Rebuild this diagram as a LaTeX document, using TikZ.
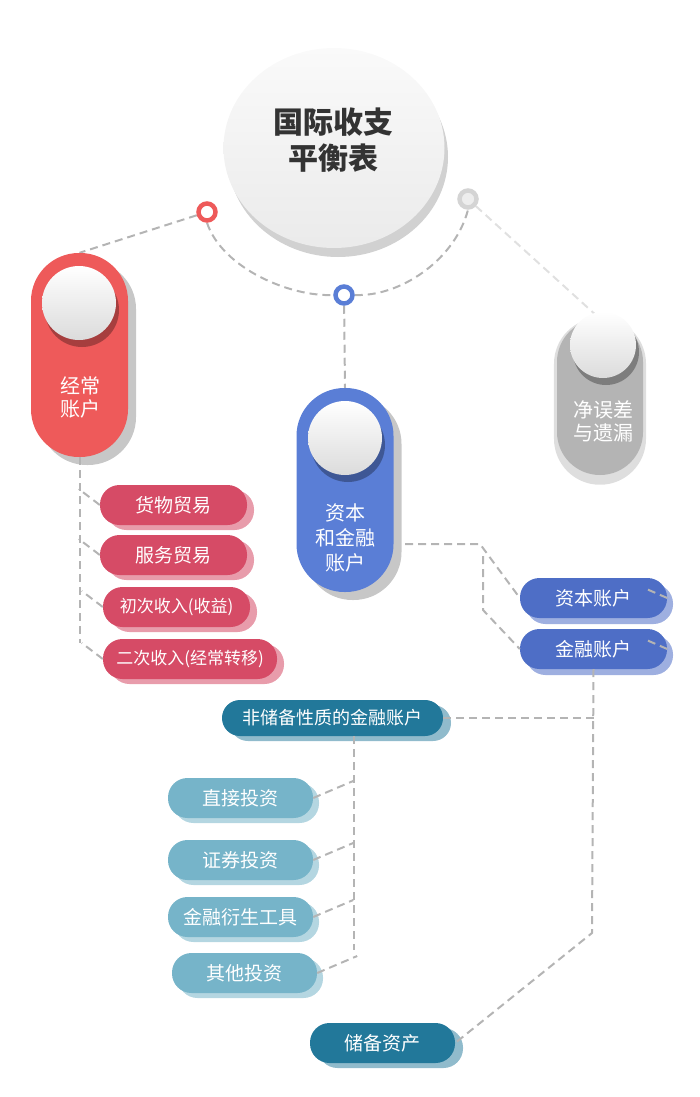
\documentclass[tikz,border=0pt]{standalone}
\usepackage{fontspec}
\setmainfont{Noto Sans CJK SC}
\usetikzlibrary{shadows,shapes.geometric}

\definecolor{redpill}{HTML}{EE5A5A}
\definecolor{reditem}{HTML}{D64B66}
\definecolor{bluepill}{HTML}{5A7ED6}
\definecolor{blueitem}{HTML}{4E6EC6}
\definecolor{graypill}{HTML}{B4B4B4}
\definecolor{tealdark}{HTML}{22789A}
\definecolor{teallight}{HTML}{76B4C9}
\definecolor{linkgray}{HTML}{B4B4B4}

\pgfdeclarelayer{bg}
\pgfsetlayers{bg,main}

\tikzset{
  link/.style={draw=linkgray, line width=2pt, dash pattern={on 8pt off 5pt}},
  ring/.style={circle, minimum size=17pt, inner sep=0pt, line width=4.5pt, fill=white},
  pill/.style={rectangle, rounded corners=47.9pt, minimum width=97pt, minimum height=204pt,
    general shadow={shadow xshift=8pt, shadow yshift=-8pt, fill=black!22}},
  knob/.style={circle, inner sep=0pt, top color=white, bottom color=black!14,
    general shadow={shadow xshift=3pt, shadow yshift=-7pt, fill=black, opacity=0.3}},
  pilltext/.style={text=white, align=center, font=\fontsize{20}{23}\selectfont},
  itm/.style={rectangle, rounded corners=19.5pt, minimum height=40pt, inner sep=0pt,
    text=white, font=\fontsize{19}{19}\selectfont},
  reditm/.style={itm, fill=reditem, general shadow={shadow xshift=7pt, shadow yshift=-5pt, fill=reditem!55}},
  blueitm/.style={itm, fill=blueitem, general shadow={shadow xshift=6pt, shadow yshift=-6pt, fill=blueitem!55}},
  darkitm/.style={itm, fill=tealdark, general shadow={shadow xshift=8pt, shadow yshift=-5pt, fill=tealdark!50}},
  lightitm/.style={itm, fill=teallight, general shadow={shadow xshift=6pt, shadow yshift=-5pt, fill=teallight!55}},
}

\begin{document}
\begin{tikzpicture}[x=1pt,y=1pt,yscale=-1,xscale=1]
	\path[use as bounding box] (0,0) rectangle (700,1097);

	%Shape: Ellipse [title]
	\fill[black!18] (338,157) ellipse (110 and 100);
	\node[ellipse, minimum width=221pt, minimum height=200pt, inner sep=0pt, top color=black!2, bottom color=black!8] (bop) at (334,148) {};
	% Text Node
	\node[text=black!80, align=center, font=\bfseries\fontsize{30}{36}\selectfont] (bop-t) at (333,140) {国际收支\\平衡表};

	%Shape: Circle [rings]
	\node[ring, draw=redpill] (r1) at (207,212) {};
	\node[ring, draw=bluepill] (r2) at (344,295) {};
	\node[ring, draw=black!17, fill=black!7] (r3) at (468,199) {};

	%Shape: Pill [current account]
	\node[pill, fill=redpill] (cur) at (79.5,355) {};
	\node[knob, minimum size=74pt] (c1) at (79,303) {};
	\node[pilltext] (cur-t) at (80,397) {经常\\账户};

	%Shape: Pill [capital and financial account]
	\node[pill, fill=bluepill] (cap) at (345,490) {};
	\node[knob, minimum size=74pt] (c2) at (345,438) {};
	\node[pilltext, font=\fontsize{20}{25}\selectfont] (cap-t) at (345,538) {资本\\和金融\\账户};

	%Shape: Pill [errors and omissions]
	\node[rectangle, rounded corners=42.9pt, minimum width=86pt, minimum height=156pt, fill=graypill,
	  general shadow={shadow scale=1.07, shadow yshift=-4pt, fill=black!13}] (err) at (600,397) {};
	\node[knob, minimum size=66pt] (c3) at (603,345) {};
	\node[pilltext] (err-t) at (603,421) {净误差\\与遗漏};

	% current account items
	\node[reditm, minimum width=147pt] (g1) at (173.5,505) {货物贸易};
	\node[reditm, minimum width=147pt] (g2) at (173.5,555) {服务贸易};
	\node[reditm, minimum width=147pt, font=\fontsize{17}{17}\selectfont] (g3) at (176.5,607) {初次收入(收益)};
	\node[reditm, minimum width=174pt, font=\fontsize{17}{17}\selectfont] (g4) at (190,659) {二次收入(经常转移)};

	% capital and financial items
	\node[blueitm, minimum width=147pt] (ka) at (593.5,598) {资本账户};
	\node[blueitm, minimum width=147pt] (fa) at (593.5,649) {金融账户};

	% financial account items
	\node[darkitm, minimum width=221pt, minimum height=36pt, rounded corners=17.9pt, font=\fontsize{18}{18}\selectfont] (nr) at (332.5,718) {非储备性质的金融账户};
	\node[lightitm, minimum width=145pt] (d1) at (240.5,798) {直接投资};
	\node[lightitm, minimum width=145pt] (d2) at (240.5,860) {证券投资};
	\node[lightitm, minimum width=145pt] (d3) at (240.5,917) {金融衍生工具};
	\node[lightitm, minimum width=145pt] (d4) at (244.5,973) {其他投资};
	\node[darkitm, minimum width=145pt] (ra) at (382.5,1043) {储备资产};

	\coordinate (curbot) at (79.5,643);
	\coordinate (capout) at (405,544);
	\coordinate (fork) at (480,544);
	\coordinate (fork2a) at (483,556);
	\coordinate (fork2b) at (483,610);
	\coordinate (resv) at (592,933);
	\coordinate (nrtop) at (354,736);
	\coordinate (nrbot) at (354,950);

	\begin{pgfonlayer}{bg}
	%Straight Lines
	\draw[link] (r1) -- (cur.north);
	\draw[link] (r1.south) .. controls (222,268) and (290,297) .. (r2.west);
	\draw[link] (r2.east) .. controls (400,297) and (455,260) .. (r3.south);
	\draw[link] (r2) -- (cap.north);
	\draw[link, draw=black!12] (r3) -- (err.north);
	\end{pgfonlayer}

	%Straight Lines
	\draw[link] (cur.south) -- (curbot);
	\foreach \g in {g1,g2,g3,g4}
	  \draw[link] (\g.west) -- ++(-21,-16);
	\draw[link] (capout) -- (fork) -- (ka.west);
	\draw[link] (fork2a) -- (fork2b) -- (fa.west);
	\draw[link] (ka.east) -- ++(-23,-10);
	\draw[link] (fa.east) -- ++(-23,-10);
	\draw[link] (fa.south) -- (resv) -- (ra.east);
	\draw[link] (nr.east) -- (nr.east -| fa.south);
	\draw[link] (nrtop) -- (nrbot);
	\foreach \d in {d1,d2,d3,d4}
	  \draw[link] (\d.east) -- ++(40,-17);

\end{tikzpicture}
\end{document}
